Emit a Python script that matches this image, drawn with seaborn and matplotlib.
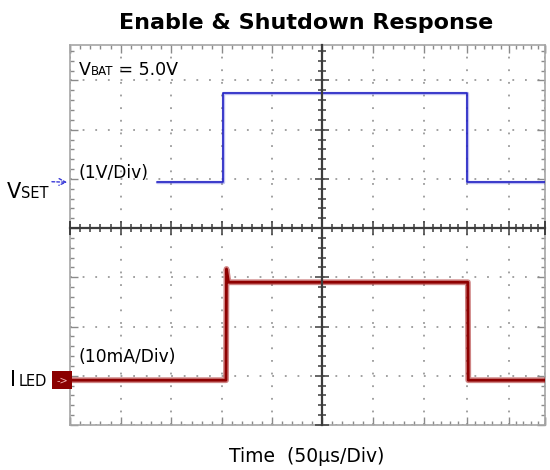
import numpy as np
import pandas as pd
import matplotlib
matplotlib.use("Agg")
import matplotlib.pyplot as plt
import seaborn as sns
from matplotlib.ticker import MultipleLocator, NullFormatter
from matplotlib.scale import FuncScale

# ---------------- data (scope divisions) ----------------
# time axis: 50 us/div ; VSET: 1 V/div ; ILED: 10 mA/div
vset_t = [1.72, 3.02, 3.02, 8.00, 8.00, 10.0]
vset_div = [0.93, 0.93, 2.74, 2.74, 0.93, 0.93]
iled_t = [0.0, 3.08, 3.09, 3.13, 8.02, 8.03, 10.0]
iled_div = [-3.09, -3.09, -0.83, -1.10, -1.10, -3.09, -3.09]

title_text = "Enable & Shutdown Response"
xlabel_text = "Time  (50\u00b5s/Div)"
vset_scale_text = "(1V/Div)"
iled_scale_text = "(10mA/Div)"
vbat_rest_text = " = 5.0V"

# screen graticule layout (fraction of width for each division line;
# the captured screen is slightly compressed on its right side)
x_divs = np.arange(0, 11)
x_div_frac = (np.array([70, 120.7, 171.3, 222, 272, 322, 373, 424, 467, 509, 545]) - 70) / 475.0

W, H = 550, 470
sns.set_theme(style="white")
plt.rcParams["font.family"] = ["DejaVu Sans"]
plt.rcParams["text.color"] = "black"

fig = plt.figure(figsize=(W / 100, H / 100), dpi=100)
rect = [70 / W, 1 - 425 / H, 475 / W, 380 / H]
ax = fig.add_axes(rect)


def fwd(x):
    return np.interp(x, x_divs, x_div_frac)


def inv(y):
    return np.interp(y, x_div_frac, x_divs)


ax.set_xscale(FuncScale(ax.xaxis, (fwd, inv)))
ax.set_xlim(0, 10)
ax.set_ylim(-4, 3.72)

blue_core, blue_halo = "#2424C4", "#6060E0"
red_core, red_halo = "#8E0000", "#A82020"

df_v = pd.DataFrame({"t": vset_t, "v": vset_div})
df_i = pd.DataFrame({"t": iled_t, "v": iled_div})

sns.lineplot(data=df_v, x="t", y="v", estimator=None, sort=False, ax=ax,
             color=blue_halo, lw=2.4, alpha=0.4, zorder=3)
sns.lineplot(data=df_v, x="t", y="v", estimator=None, sort=False, ax=ax,
             color=blue_core, lw=1.2, zorder=4)
sns.lineplot(data=df_i, x="t", y="v", estimator=None, sort=False, ax=ax,
             color=red_halo, lw=4.2, alpha=0.55, zorder=3)
sns.lineplot(data=df_i, x="t", y="v", estimator=None, sort=False, ax=ax,
             color=red_core, lw=2.0, zorder=4)

ax.set_xlabel("")
ax.set_ylabel("")

# border box with inward ticks
for loc in ax.xaxis, ax.yaxis:
    loc.set_major_locator(MultipleLocator(1))
    loc.set_minor_locator(MultipleLocator(0.2))
    loc.set_major_formatter(NullFormatter())
    loc.set_minor_formatter(NullFormatter())
for s in ax.spines.values():
    s.set_visible(True)
    s.set_color("#A6A6A6")
    s.set_linewidth(1.2)
ax.tick_params(which="both", direction="in", top=True, bottom=True, left=True,
               right=True, color="#8A8A8A", width=1.0)
ax.tick_params(which="major", length=6)
ax.tick_params(which="minor", length=3)
ax.grid(which="major", color="#9A9A9A", linestyle=(0, (1.0, 6.0)), linewidth=1.3)
ax.set_axisbelow(True)

# centre crosshair with its own ticks
ax2 = fig.add_axes(rect, sharex=ax, sharey=ax)
ax2.patch.set_visible(False)
ax2.grid(False)
ax2.spines["top"].set_visible(False)
ax2.spines["right"].set_visible(False)
ax2.spines["left"].set_position(("data", 5))
ax2.spines["bottom"].set_position(("data", 0))
for s in ("left", "bottom"):
    ax2.spines[s].set_color("#3C3C3C")
    ax2.spines[s].set_linewidth(1.6)
ax2.tick_params(which="both", direction="inout", left=True, bottom=True, top=False,
                right=False, color="#3C3C3C", width=1.1, labelleft=False,
                labelbottom=False)
ax2.tick_params(which="major", length=10)
ax2.tick_params(which="minor", length=6)

# ---------------- text ----------------
def fx(px):
    return px / W


def fy(py):
    return 1 - py / H


fig.text(fx(306), fy(29), title_text, ha="center", va="baseline",
         fontsize=16, fontweight="bold", color="black")
fig.text(fx(307), fy(462), xlabel_text, ha="center", va="baseline",
         fontsize=13.5, color="black")

fig.text(fx(79), fy(75), "V", ha="left", va="baseline", fontsize=12.5)
fig.text(fx(91), fy(75), "BAT", ha="left", va="baseline", fontsize=8.5)
fig.text(fx(113), fy(75), vbat_rest_text, ha="left", va="baseline", fontsize=12.5)

fig.text(fx(79), fy(178), vset_scale_text, ha="left", va="baseline", fontsize=12.3)
fig.text(fx(79), fy(362), iled_scale_text, ha="left", va="baseline", fontsize=12.3)

fig.text(fx(7), fy(198), "V", ha="left", va="baseline", fontsize=15)
fig.text(fx(21), fy(198), "SET", ha="left", va="baseline", fontsize=10.5)
fig.text(fx(10), fy(386), "I", ha="left", va="baseline", fontsize=15)
fig.text(fx(19), fy(386), "LED", ha="left", va="baseline", fontsize=10.5)

# channel markers at the left edge
ax.annotate("", xy=(0, vset_div[0]), xycoords=("axes fraction", "data"),
            xytext=(-15, 0.5), textcoords="offset points",
            arrowprops=dict(arrowstyle="->", color="#3A3AD8", lw=1.0,
                            linestyle=(0, (2, 1.5))),
            annotation_clip=False)
ax.annotate("->", xy=(0, iled_div[0]), xycoords=("axes fraction", "data"),
            xytext=(-1.5, 0), textcoords="offset points", ha="right", va="center",
            fontsize=7, color="#F2B4B4",
            bbox=dict(boxstyle="square,pad=0.4", fc="#8B0000", ec="none"),
            annotation_clip=False, zorder=6)

fig.savefig("out.png", dpi=100)
